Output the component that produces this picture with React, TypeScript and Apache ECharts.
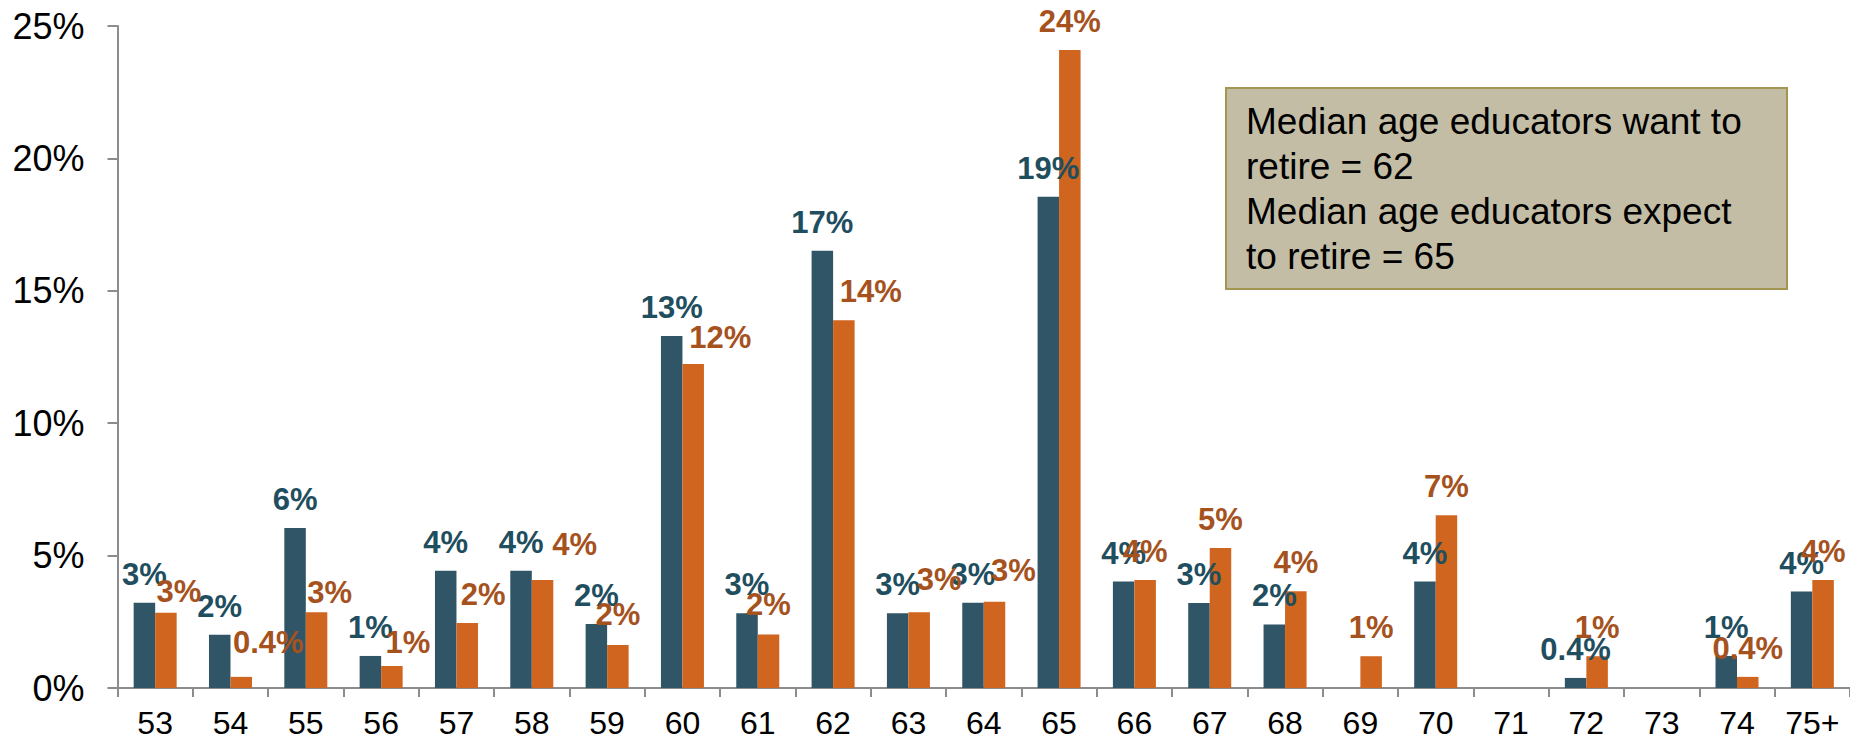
import React, { useEffect, useRef } from "react";
import * as echarts from "echarts";

const ages = ["53", "54", "55", "56", "57", "58", "59", "60", "61", "62", "63", "64", "65", "66", "67", "68", "69", "70", "71", "72", "73", "74", "75+"];

// Median age educators want to retire (teal)
const wantValues: (number | null)[] = [3.22, 2.01, 6.04, 1.21, 4.43, 4.43, 2.42, 13.29, 2.82, 16.51, 2.82, 3.22, 18.55, 4.02, 3.21, 2.40, null, 4.02, null, 0.38, null, 1.21, 3.64];

// Median age educators expect to retire (orange)
const expectValues: (number | null)[] = [2.84, 0.42, 2.86, 0.83, 2.45, 4.08, 1.62, 12.24, 2.02, 13.89, 2.86, 3.26, 24.09, 4.08, 5.29, 3.65, 1.2, 6.52, null, 1.2, null, 0.42, 4.08];

const yTicks = { min: 0, max: 25, interval: 5 };

const noteLines = [
  "Median age educators want to",
  "retire = 62",
  "Median age educators expect",
  "to retire = 65",
];

// manual label nudges (dx, dy) for the orange labels, as in the reference
const expectLabelNudge: [number, number][] = [
  [13, 7.5], [27, -5.5], [13, 8.5], [16, 4.5], [16, 0], [32, -6.5], [0, -2.5], [27, 2], [0, -1.5], [27, 0], [20, -4], [19, -3],
];

const FONT = "'Liberation Sans', Arial, Helvetica, sans-serif";
const TEAL = "#2F5566";
const ORANGE = "#D06520";
const TEAL_TEXT = "#1F4E5F";
const ORANGE_TEXT = "#A5521E";
const AXIS = "#8C8C8C";

const fmt = (p: any) => {
  const v = p.value;
  if (v == null || v === "-") return "";
  return (v < 0.5 ? v.toFixed(1) : String(Math.round(v))) + "%";
};

export default function App() {
  const ref = useRef<HTMLDivElement>(null);
  useEffect(() => {
    if (!ref.current) return;
    const chart = echarts.init(ref.current, undefined, { renderer: "svg" });
    const option: any = {
      animation: false,
      backgroundColor: "#ffffff",
      textStyle: { fontFamily: FONT },
      grid: { left: 117.5, top: 26, width: 1734.7, height: 662, containLabel: false },
      xAxis: {
        type: "category",
        data: ages,
        axisLine: { show: true, lineStyle: { color: AXIS, width: 2 } },
        axisTick: { show: true, length: 9, lineStyle: { color: AXIS, width: 2 } },
        axisLabel: { color: "#000", fontSize: 32, fontFamily: FONT, margin: 19, interval: 0 },
        splitLine: { show: false },
      },
      yAxis: {
        type: "value",
        min: yTicks.min,
        max: yTicks.max,
        interval: yTicks.interval,
        axisLine: { show: true, lineStyle: { color: AXIS, width: 2 } },
        axisTick: { show: true, length: 10, lineStyle: { color: AXIS, width: 2 } },
        axisLabel: { color: "#000", fontSize: 36, fontFamily: FONT, margin: 33, formatter: "{value}%" },
        splitLine: { show: false },
      },
      series: [
        {
          name: "Want",
          type: "bar",
          barWidth: 21.5,
          barGap: "0%",
          itemStyle: { color: TEAL },
          label: {
            show: true,
            position: "top",
            distance: 13,
            formatter: fmt,
            color: TEAL_TEXT,
            fontSize: 31,
            fontWeight: "bold",
            fontFamily: FONT,
          },
          data: wantValues.map((v) => (v == null ? "-" : v)),
        },
        {
          name: "Expect",
          type: "bar",
          barWidth: 21.5,
          barGap: "0%",
          itemStyle: { color: ORANGE },
          label: {
            show: true,
            position: "top",
            distance: 13,
            formatter: fmt,
            color: ORANGE_TEXT,
            fontSize: 31,
            fontWeight: "bold",
            fontFamily: FONT,
          },
          data: expectValues.map((v, i) => {
            if (v == null) return "-";
            const nudge = expectLabelNudge[i];
            return nudge ? { value: v, label: { offset: nudge } } : v;
          }),
        },
      ],
      graphic: [
        {
          type: "rect",
          shape: { x: 1226, y: 88, width: 561, height: 201 },
          style: { fill: "#C4BDA6", stroke: "#A39650", lineWidth: 2 },
          z: 10,
        },
        {
          type: "text",
          x: 1246,
          y: 99,
          style: {
            text: noteLines.join("\n"),
            fill: "#000",
            font: `37px ${FONT}`,
            lineHeight: 45,
            verticalAlign: "top",
            align: "left",
          },
          z: 11,
        },
      ],
    };
    chart.setOption(option);
    return () => chart.dispose();
  }, []);
  return (
    <div
      ref={ref}
      style={{ position: "absolute", left: 0, top: 0, width: 1850, height: 741 }}
    />
  );
}
